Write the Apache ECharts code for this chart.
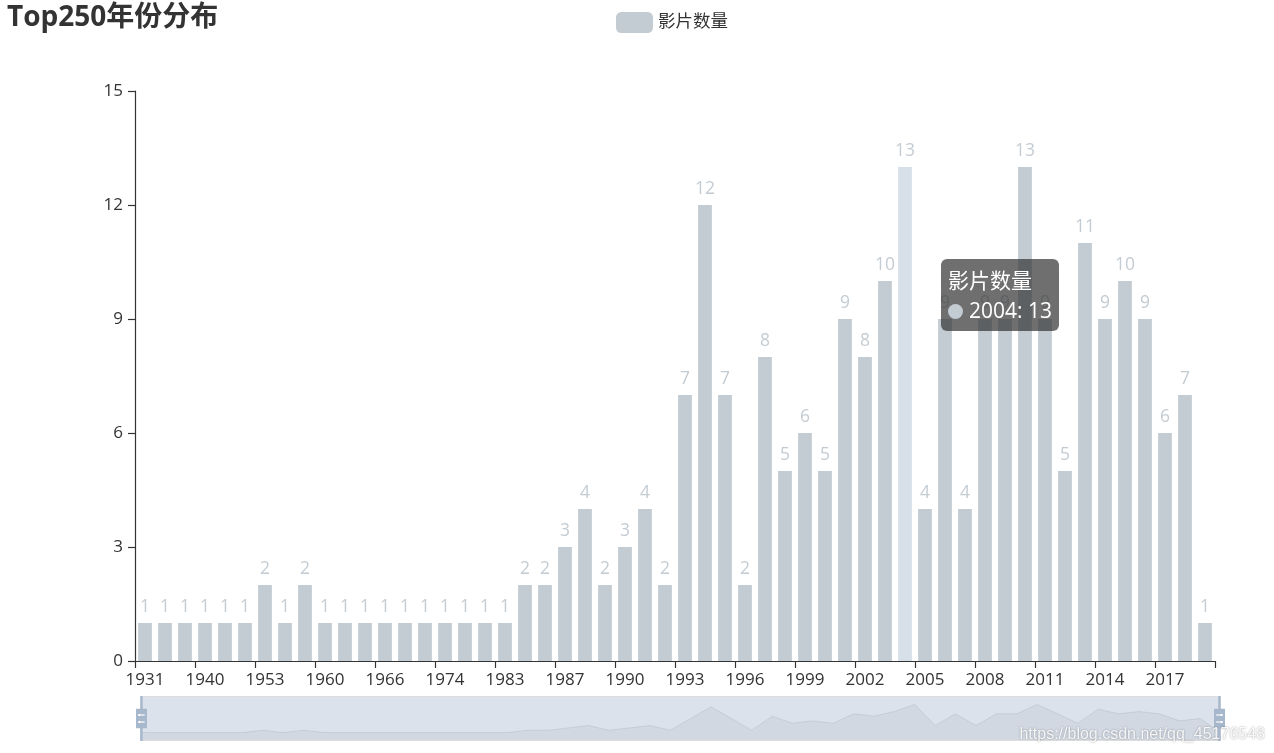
<!DOCTYPE html>
<html>
<head>
<meta charset="utf-8">
<script src="https://cdn.jsdelivr.net/npm/echarts@6/dist/echarts.min.js"></script>
<style>html,body{margin:0;padding:0;background:#fff;}#main{width:1274px;height:753px;}</style>
</head>
<body>
<div id="main"></div>
<script>
var years = ['1931','1936','1939','1940','1942','1950','1953','1954','1957','1960','1961','1964','1966','1971','1972','1974','1975','1979','1983','1984','1986','1987','1988','1989','1990','1991','1992','1993','1994','1995','1996','1997','1998','1999','2000','2001','2002','2003','2004','2005','2006','2007','2008','2009','2010','2011','2012','2013','2014','2015','2016','2017','2018','2019'];
var counts = [1,1,1,1,1,1,2,1,2,1,1,1,1,1,1,1,1,1,1,2,2,3,4,2,3,4,2,7,12,7,2,8,5,6,5,9,8,10,13,4,9,4,9,9,13,9,5,11,9,10,9,6,7,1];
var yTicks = [0,3,6,9,12,15];
var seriesName = '影片数量';
var titleText = 'Top250年份分布';
var watermark = 'https://blog.csdn.net/qq_45176548';

var FONT = "'Open Sans','Noto Sans CJK SC',sans-serif";
var chart = echarts.init(document.getElementById('main'));
var option = {
  animation: false,
  color: ['#c4ccd3'],
  title: {
    text: titleText, left: 2, top: -1,
    textStyle: {fontSize: 28, fontWeight: 'bold', color: '#333', fontFamily: FONT}
  },
  legend: {
    left: 611, top: 7,
    icon: 'roundRect', itemWidth: 37, itemHeight: 21, itemGap: 14,
    textStyle: {fontSize: 17.5, color: '#333', fontFamily: FONT},
    data: [seriesName]
  },
  tooltip: {
    trigger: 'item',
    alwaysShowContent: true,
    position: [941, 259],
    backgroundColor: 'rgba(50,50,50,0.7)',
    borderWidth: 0, borderColor: 'transparent',
    padding: [6, 7],
    extraCssText: 'box-shadow:none;border-radius:6px;line-height:30px;',
    textStyle: {color: '#fff', fontSize: 21, fontFamily: FONT},
    formatter: function (p) {
      var m = '<span style="display:inline-block;margin-right:6px;border-radius:50%;width:15px;height:15px;vertical-align:-1px;background-color:#c4ccd3;"></span>';
      return p.seriesName + '<br/>' + m + p.name + ': ' + p.value;
    }
  },
  grid: {left: 135, right: 59, top: 91, bottom: 92, containLabel: false, outerBoundsMode: 'none'},
  xAxis: {
    type: 'category', data: years,
    axisLine: {show: true, lineStyle: {color: '#333', width: 1.2}},
    axisTick: {show: true, interval: 2, length: 7, lineStyle: {color: '#333', width: 1.2}},
    axisLabel: {interval: 2, fontSize: 17, color: '#333', margin: 11, fontFamily: FONT}
  },
  yAxis: {
    type: 'value', min: yTicks[0], max: yTicks[yTicks.length - 1], interval: yTicks[1] - yTicks[0],
    axisLine: {show: true, lineStyle: {color: '#333', width: 1.2}},
    axisTick: {show: true, length: 7, lineStyle: {color: '#333', width: 1.2}},
    splitLine: {show: false},
    axisLabel: {fontSize: 17, color: '#333', margin: 12, fontFamily: FONT}
  },
  dataZoom: [{
    type: 'slider', xAxisIndex: 0, start: 0, end: 100,
    left: 138, width: 1080, top: 696, height: 45,
    showDetail: false, brushSelect: false, moveHandleSize: 0,
    backgroundColor: 'rgba(47,69,84,0)', borderColor: '#ddd',
    fillerColor: 'rgba(167,183,204,0.4)',
    handleIcon: 'path://M8.2,13.6V3.9H6.3v9.7H3.1v14.9h3.3v9.7h1.8v-9.7h3.3V13.6H8.2z M9.7,24.4H4.8v-1.4h4.9V24.4z M9.7,19.1H4.8v-1.4h4.9V19.1z',
    handleSize: '100%',
    handleStyle: {color: '#a7b7cc', borderWidth: 0},
    dataBackground: {lineStyle: {color: '#2f4554', width: 0.5, opacity: 0.3}, areaStyle: {color: 'rgba(47,69,84,0.3)', opacity: 0.3}},
    selectedDataBackground: {lineStyle: {color: '#2f4554', width: 0.5, opacity: 0.3}, areaStyle: {color: 'rgba(47,69,84,0.3)', opacity: 0.3}}
  }],
  graphic: [{
    type: 'text', right: 9, top: 727, z: 100,
    style: {text: watermark, fill: 'rgba(255,255,255,0.9)', fontSize: 16, fontFamily: "'Liberation Sans',Arial,sans-serif",
      textShadowColor: 'rgba(0,0,0,0.45)', textShadowBlur: 2}
  }],
  series: [{
    name: seriesName, type: 'bar', data: counts,
    itemStyle: {color: '#c4ccd3'},
    label: {show: true, position: 'top', distance: 7, color: '#c4ccd3', fontSize: 17.5, fontFamily: FONT},
    emphasis: {itemStyle: {color: '#d7e0e8'}, label: {color: '#c4ccd3'}}
  }]
};
chart.setOption(option);
chart.dispatchAction({type: 'highlight', seriesIndex: 0, dataIndex: 38});
chart.dispatchAction({type: 'showTip', seriesIndex: 0, dataIndex: 38});
</script>
</body>
</html>
